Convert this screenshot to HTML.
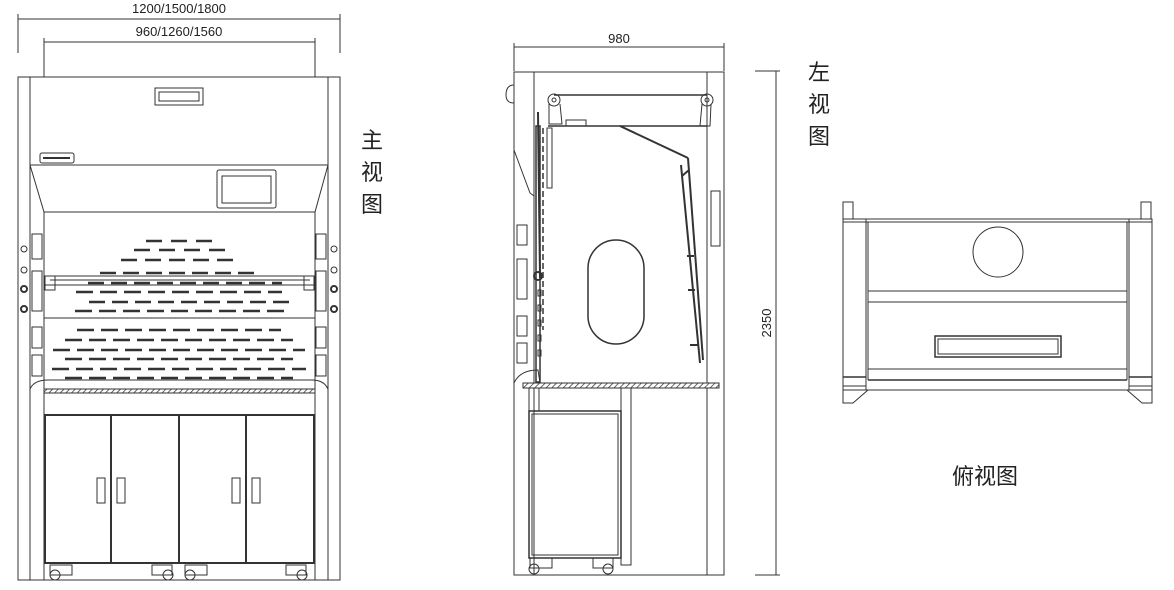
<!DOCTYPE html>
<html><head><meta charset="utf-8"><style>
html,body{margin:0;padding:0;background:#fff;}
svg{display:block}
text{font-family:"Liberation Sans","Noto Sans CJK SC",sans-serif;fill:#222}
</style></head><body>
<svg width="1174" height="590" viewBox="0 0 1174 590" xmlns="http://www.w3.org/2000/svg">
<defs>
<pattern id="hatch" width="4" height="4" patternUnits="userSpaceOnUse" patternTransform="rotate(45)">
<rect width="4" height="4" fill="#fff"/><line x1="0" y1="0" x2="0" y2="4" stroke="#333" stroke-width="1.5"/></pattern>
</defs>
<g fill="none" stroke="#333" stroke-width="1">
<!-- FRONT VIEW dims -->
<line x1="18" y1="19" x2="340" y2="19"/><line x1="18" y1="14" x2="18" y2="53"/><line x1="340" y1="14" x2="340" y2="53"/>
<line x1="44" y1="42" x2="315" y2="42"/><line x1="44" y1="38" x2="44" y2="77"/><line x1="315" y1="38" x2="315" y2="77"/>
<!-- frame -->
<rect x="18" y="77" width="322" height="503"/>
<line x1="30" y1="77" x2="30" y2="580"/><line x1="328" y1="77" x2="328" y2="580"/>
<line x1="44" y1="212" x2="44" y2="580"/><line x1="315" y1="212" x2="315" y2="580"/>
<line x1="30" y1="165" x2="328" y2="165"/>
<polyline points="30,165 44,212 315,212 328,165"/>
<!-- vent -->
<rect x="155" y="88" width="48" height="17"/><rect x="159" y="92" width="40" height="9"/>
<rect x="40" y="153" width="34" height="10" rx="2"/>
<line x1="43" y1="158" x2="70" y2="158" stroke-width="2"/>
<!-- screen -->
<rect x="217" y="170" width="59" height="38" rx="2"/><rect x="222" y="176" width="49" height="27"/>
<!-- posts details -->
<circle cx="24" cy="249" r="3"/><circle cx="24" cy="270" r="3"/><circle cx="24" cy="289" r="3" stroke-width="2"/><circle cx="24" cy="309" r="3" stroke-width="2"/>
<circle cx="334" cy="249" r="3"/><circle cx="334" cy="270" r="3"/><circle cx="334" cy="289" r="3" stroke-width="2"/><circle cx="334" cy="309" r="3" stroke-width="2"/>
<rect x="32" y="234" width="10" height="25"/><rect x="32" y="271" width="10" height="40"/><rect x="32" y="327" width="10" height="21"/><rect x="32" y="355" width="10" height="21"/>
<rect x="316" y="234" width="10" height="25"/><rect x="316" y="271" width="10" height="40"/><rect x="316" y="327" width="10" height="21"/><rect x="316" y="355" width="10" height="21"/>
<!-- sash -->
<rect x="45" y="276" width="270" height="9"/><line x1="50" y1="280" x2="310" y2="280"/>
<rect x="45" y="276" width="10" height="14"/><rect x="304" y="276" width="10" height="14"/>
<line x1="44" y1="318" x2="315" y2="318"/>
<path d="M30,389 Q34,380 48,380 L312,380 Q324,380 328,389"/>
<rect x="44" y="389" width="271" height="4" fill="url(#hatch)"/>
<line x1="44" y1="393" x2="315" y2="393"/>
<!-- slots -->
<g stroke-width="2.5">
<line x1="146" y1="241" x2="212" y2="241" stroke-dasharray="16 9"/>
<line x1="134" y1="250" x2="225" y2="250" stroke-dasharray="16 9"/>
<line x1="121" y1="260" x2="237" y2="260" stroke-dasharray="16 8"/>
<line x1="100" y1="273" x2="258" y2="273" stroke-dasharray="16 7"/>
<line x1="88" y1="283" x2="282" y2="283" stroke-dasharray="16 7"/>
<line x1="76" y1="292" x2="282" y2="292" stroke-dasharray="17 7"/>
<line x1="89" y1="302" x2="294" y2="302" stroke-dasharray="16 7"/>
<line x1="75" y1="311" x2="284" y2="311" stroke-dasharray="17 7"/>
<line x1="77" y1="330" x2="281" y2="330" stroke-dasharray="17 7"/>
<line x1="65" y1="340" x2="293" y2="340" stroke-dasharray="17 7"/>
<line x1="53" y1="350" x2="305" y2="350" stroke-dasharray="17 7"/>
<line x1="65" y1="359" x2="293" y2="359" stroke-dasharray="17 7"/>
<line x1="52" y1="369" x2="306" y2="369" stroke-dasharray="17 7"/>
<line x1="65" y1="378" x2="293" y2="378" stroke-dasharray="17 7"/>
</g>
<!-- cabinets -->
<g stroke-width="2"><rect x="45" y="415" width="269" height="148"/>
<line x1="111" y1="415" x2="111" y2="563"/><line x1="179" y1="415" x2="179" y2="563"/><line x1="246" y1="415" x2="246" y2="563"/></g>
<rect x="97" y="478" width="8" height="25"/><rect x="117" y="478" width="8" height="25"/><rect x="232" y="478" width="8" height="25"/><rect x="252" y="478" width="8" height="25"/>
<rect x="50" y="565" width="22" height="10"/><circle cx="55" cy="575" r="5"/>
<rect x="152" y="565" width="20" height="10"/><circle cx="168" cy="575" r="5"/>
<rect x="185" y="565" width="22" height="10"/><circle cx="190" cy="575" r="5"/>
<rect x="286" y="565" width="20" height="10"/><circle cx="302" cy="575" r="5"/>

<!-- SIDE VIEW -->
<line x1="514" y1="47" x2="724" y2="47"/><line x1="514" y1="43" x2="514" y2="71"/><line x1="724" y1="43" x2="724" y2="71"/>
<rect x="514" y="72" width="210" height="503"/>
<line x1="534" y1="72" x2="534" y2="575"/><line x1="707" y1="72" x2="707" y2="575"/>
<line x1="755" y1="71" x2="780" y2="71"/><line x1="755" y1="575" x2="780" y2="575"/><line x1="776" y1="71" x2="776" y2="575"/>
<path d="M514,85 Q506,85 506,95 Q506,103 514,103"/>
<line x1="554" y1="95" x2="707" y2="95" stroke-width="1.5"/>
<line x1="548" y1="126" x2="707" y2="126" stroke-width="1.5"/>
<circle cx="554" cy="100" r="6"/><circle cx="554" cy="100" r="2"/>
<circle cx="707" cy="100" r="6"/><circle cx="707" cy="100" r="2"/>
<path d="M549,104 L549,124 L562,124 L560,104"/><path d="M702,104 L700,126 L710,126 L711,104"/>
<rect x="566" y="120" width="20" height="6"/>
<line x1="620" y1="126" x2="688" y2="158" stroke-width="2"/>
<line x1="681" y1="165" x2="700" y2="363" stroke-width="2"/><line x1="688" y1="158" x2="703" y2="360" stroke-width="2"/>
<line x1="689" y1="170" x2="682" y2="176" stroke-width="2"/><line x1="694" y1="256" x2="687" y2="256" stroke-width="2"/><line x1="695" y1="290" x2="688" y2="290" stroke-width="2"/><line x1="698" y1="345" x2="690" y2="345" stroke-width="2"/>
<path d="M514,150 L530,193 L534,196"/>
<rect x="536" y="126" width="4" height="256" stroke-width="1.5"/><line x1="543" y1="128" x2="543" y2="330" stroke-dasharray="6 3" stroke-width="1.5"/>
<rect x="547" y="128" width="5" height="60"/>
<line x1="538" y1="112" x2="540" y2="278" stroke-width="2"/>
<circle cx="538" cy="276" r="4" stroke-width="2"/>
<rect x="517" y="225" width="10" height="20"/><rect x="517" y="259" width="10" height="40"/><rect x="517" y="316" width="10" height="20"/><rect x="517" y="343" width="10" height="20"/>
<rect x="538" y="290" width="3" height="6"/><rect x="538" y="305" width="3" height="6"/><rect x="538" y="320" width="3" height="6"/><rect x="538" y="335" width="3" height="6"/><rect x="538" y="350" width="3" height="6"/>
<rect x="711" y="191" width="9" height="55"/>
<path d="M514,383 Q520,370 538,370 L540,383"/>
<rect x="523" y="383" width="196" height="5" fill="url(#hatch)"/>
<rect x="529" y="388" width="10" height="23"/>
<rect x="529" y="411" width="92" height="147" stroke-width="1.5"/><rect x="532" y="414" width="86" height="141"/>
<rect x="621" y="388" width="10" height="177"/>
<rect x="530" y="558" width="22" height="10"/><circle cx="534" cy="569" r="5"/>
<rect x="593" y="558" width="20" height="10"/><circle cx="608" cy="569" r="5"/>
<rect x="588" y="240" width="56" height="104" rx="28" stroke-width="1.5"/>

<!-- TOP VIEW -->
<rect x="843" y="219" width="309" height="171"/>
<line x1="843" y1="222" x2="1152" y2="222"/>
<rect x="843" y="202" width="10" height="17"/><rect x="1141" y="202" width="10" height="17"/>
<line x1="866" y1="219" x2="866" y2="390"/><line x1="1129" y1="219" x2="1129" y2="390"/>
<line x1="868" y1="222" x2="868" y2="380"/><line x1="1127" y1="222" x2="1127" y2="380"/>
<circle cx="998" cy="252" r="25"/>
<rect x="868" y="291" width="259" height="11"/>
<line x1="868" y1="369" x2="1127" y2="369"/>
<line x1="868" y1="380" x2="1127" y2="380" stroke-width="1.5"/>
<rect x="935" y="336" width="126" height="21" stroke-width="1.5"/><rect x="938" y="339" width="120" height="15"/>
<line x1="843" y1="377" x2="866" y2="377" stroke-width="1.5"/><line x1="1129" y1="377" x2="1152" y2="377" stroke-width="1.5"/>
<line x1="843" y1="386" x2="866" y2="386"/><line x1="1129" y1="386" x2="1152" y2="386"/>
<path d="M843,390 L843,403 L853,403 L868,390"/><path d="M1152,390 L1152,403 L1142,403 L1127,390"/>
</g>
<text x="179" y="13" font-size="13" text-anchor="middle">1200/1500/1800</text>
<text x="179" y="36" font-size="13" text-anchor="middle">960/1260/1560</text>
<text x="619" y="43" font-size="13" text-anchor="middle">980</text>
<text x="0" y="0" font-size="13" text-anchor="middle" transform="translate(771,323) rotate(-90)">2350</text>
<g font-size="22">
<text x="361" y="148">主</text><text x="361" y="180">视</text><text x="361" y="212">图</text>
<text x="808" y="80">左</text><text x="808" y="112">视</text><text x="808" y="144">图</text>
<text x="952" y="484">俯视图</text>
</g>
</svg>
</body></html>
